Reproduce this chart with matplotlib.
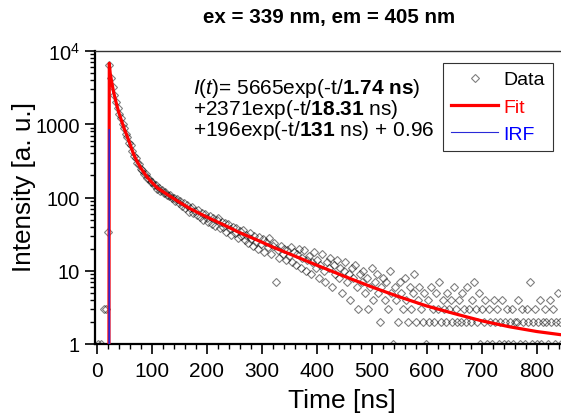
import numpy as np
import matplotlib
matplotlib.use("Agg")
import matplotlib.pyplot as plt
from matplotlib.ticker import FixedLocator, MultipleLocator, LogLocator, NullFormatter

plt.rcParams["font.family"] = ["Liberation Sans", "DejaVu Sans"]
plt.rcParams["mathtext.fontset"] = "custom"
plt.rcParams["mathtext.rm"] = "Liberation Sans"
plt.rcParams["mathtext.it"] = "Liberation Sans:italic"
plt.rcParams["mathtext.bf"] = "Liberation Sans:bold"

# decay counts, one channel every 3 ns starting at 1.5 ns
t_start = 1.5
t_step = 3.0
counts = [
    1, 0, 1, 0, 3, 3, 34, 6400, 4300, 3180,
    2540, 1990, 1690, 1360, 1210, 1000, 885, 745, 672, 560,
    515, 425, 370, 345, 298, 284, 246, 240, 212, 207,
    183, 181, 164, 162, 146, 147, 131, 134, 122, 125,
    114, 118, 108, 104, 107, 97, 99, 91, 94, 85,
    90, 76, 84, 73, 79, 64, 72, 75, 61, 66,
    57, 68, 55, 61, 50, 59, 52, 47, 56, 44,
    53, 41, 49, 52, 38, 47, 40, 45, 34, 43,
    37, 31, 40, 33, 38, 28, 35, 30, 36, 26,
    31, 24, 33, 27, 22, 30, 25, 20, 29, 23,
    27, 18, 25, 21, 28, 17, 22, 24, 7, 19,
    15, 22, 17, 20, 14, 19, 16, 21, 13, 18,
    12, 17, 20, 11, 15, 19, 10, 14, 16, 9,
    13, 18, 11, 14, 8, 12, 17, 10, 7, 13,
    11, 15, 6, 12, 9, 14, 8, 11, 5, 10,
    13, 7, 9, 4, 11, 8, 12, 6, 3, 9,
    7, 10, 5, 8, 3, 6, 11, 4, 7, 9,
    5, 2, 6, 8, 4, 7, 3, 10, 5, 1,
    6, 4, 2, 7, 5, 3, 8, 4, 2, 6,
    3, 5, 9, 2, 4, 6, 3, 2, 5, 1,
    4, 2, 6, 3, 2, 5, 3, 7, 2, 4,
    3, 2, 5, 3, 4, 2, 6, 3, 2, 4,
    2, 5, 3, 2, 6, 3, 2, 4, 7, 3,
    2, 5, 1, 3, 2, 4, 1, 3, 2, 1,
    4, 2, 3, 1, 2, 4, 1, 2, 3, 1,
    2, 3, 1, 2, 2, 4, 1, 3, 2, 1,
    3, 2, 7, 1, 2, 3, 1, 2, 4, 1,
    2, 3, 2, 1, 4, 2, 3, 1, 2, 5,
    2, 1,
]

# fitted curve
fit_t = [21.8, 22.4, 24, 27, 30, 35, 40, 45, 50, 55, 60, 66, 72, 80, 90, 100,
         110, 120, 133, 150, 170, 200, 230, 260, 290, 320, 350, 400, 450, 500,
         550, 600, 650, 700, 750, 800, 850]
fit_v = [1, 6800, 5000, 3700, 2800, 1950, 1420, 1100, 850, 680, 540, 400, 320,
         250, 195, 160, 135, 120, 104, 86, 70, 54, 42.5, 33, 26.5, 21, 17, 11.9,
         8.4, 6.0, 4.4, 3.3, 2.6, 2.07, 1.72, 1.48, 1.32]

# instrument response (mostly hidden behind the fit's rising edge)
irf_t = [21.6, 22.3, 23.0]
irf_v = [1, 850, 1]

ytick_vals = [1, 10, 100, 1000, 10000]
ytick_labels = ["1", "10", "100", "1000", r"$10^4$"]

title = "ex = 339 nm, em = 405 nm"
fit_lines = [
    r"$\mathit{I}$($\mathit{t}$)= 5665exp(-t/$\mathbf{1.74\ ns}$)",
    r"+2371exp(-t/$\mathbf{18.31}$ ns)",
    r"+196exp(-t/$\mathbf{131}$ ns) + 0.96",
]

W, H = 561, 414
fig = plt.figure(figsize=(W / 100, H / 100), dpi=100)
ax = fig.add_axes([95 / W, (H - 345) / H, (W - 95) / W, (345 - 52) / H])

t_data = t_start + t_step * np.arange(len(counts))
c = np.array(counts, dtype=float)
c[c <= 0] = np.nan

ax.plot(t_data, c, ls="none", marker="D", ms=4.5, mfc="none",
        mec=(0, 0, 0, 0.5), mew=0.8, label="Data", zorder=2)
ax.plot(fit_t, fit_v, color="red", lw=2.3, label="Fit", zorder=3)
ax.plot(irf_t, irf_v, color="#2a2ad8", lw=0.8, label="IRF", zorder=4)

ax.set_yscale("log")
ax.set_ylim(1, 1e4)
ax.set_xlim(-3.6, 844)

ax.yaxis.set_major_locator(FixedLocator(ytick_vals))
ax.set_yticklabels(ytick_labels)
ax.yaxis.set_minor_locator(LogLocator(base=10, subs=np.arange(2, 10)))
ax.yaxis.set_minor_formatter(NullFormatter())
ax.xaxis.set_major_locator(MultipleLocator(100))
ax.xaxis.set_minor_locator(MultipleLocator(20))

ax.tick_params(which="major", direction="out", length=7, width=1.2)
ax.tick_params(which="minor", direction="out", length=3.6, width=1.0)
ax.tick_params(axis="x", which="major", labelsize=15, pad=5.5)
ax.tick_params(axis="y", which="major", labelsize=14.5, pad=4)

for side in ["left", "bottom"]:
    ax.spines[side].set_linewidth(1.6)
ax.spines["top"].set_linewidth(1.0)
ax.spines["top"].set_color("0.2")
ax.spines["right"].set_visible(False)

fig.text(341.5 / W, 1 - 408 / H, "Time [ns]", ha="center", va="baseline", fontsize=19)
fig.text(24 / W, 1 - 187 / H, "Intensity [a. u.]", ha="center", va="center",
         rotation=90, fontsize=18.8)
fig.text(329 / W, 1 - 17 / H, title, ha="center", va="center",
         fontsize=14.8, fontweight="bold")

for i, line in enumerate(fit_lines):
    fig.text(193 / W, 1 - (88 + 21.5 * i) / H, line, ha="left", va="center", fontsize=15)

leg = ax.legend(loc="upper right", bbox_to_anchor=((553 - 95) / 466, (345 - 64) / 293),
                borderaxespad=0, fontsize=14, fancybox=False, framealpha=1,
                edgecolor="0.2", handlelength=2.4, handletextpad=0.3,
                labelspacing=0.5, numpoints=1, borderpad=0.4)
leg.get_frame().set_linewidth(0.8)
for txt, col in zip(leg.get_texts(), ["black", "red", "blue"]):
    txt.set_color(col)

fig.savefig("out.png", dpi=100)
